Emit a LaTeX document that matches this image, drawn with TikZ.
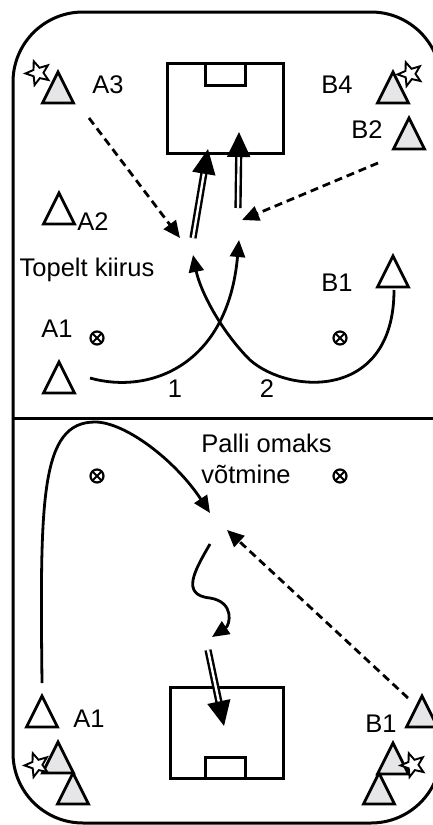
\documentclass[tikz,border=0pt]{standalone}
\usepackage{fontspec}
\setmainfont{Liberation Sans}
\usetikzlibrary{arrows.meta,shapes.geometric}
\definecolor{lightgrey}{RGB}{230,230,232}

\begin{document}
\begin{tikzpicture}[x=1pt,y=-1pt,line width=2.8pt,
  player/.style={isosceles triangle,isosceles triangle stretches,shape border rotate=90,
    minimum width=31pt,minimum height=31pt,inner sep=0pt,outer sep=0pt,draw,anchor=south},
  keeper/.style={player,fill=lightgrey},
  starmark/.style={star,star points=5,star point ratio=2.3,minimum size=25pt,inner sep=0pt,
    draw,fill=white,line width=1.9pt,rotate=20},
  ball/.style={circle,draw,line width=2.2pt,minimum size=13pt,inner sep=0pt,
    path picture={\draw[line width=1.8pt] (path picture bounding box.north west) -- (path picture bounding box.south east)
      (path picture bounding box.north east) -- (path picture bounding box.south west);}},
  txt/.style={font=\fontsize{25.5}{31}\selectfont,inner sep=0pt,anchor=base},
  goal/.style={draw,inner sep=0pt,outer sep=0pt,line width=3pt},
  runline/.style={-{Triangle[length=17pt,width=15pt]}},
  passline/.style={runline,dash pattern=on 8pt off 5pt},
  shotline/.style={double,double distance=2.4pt,line width=2.4pt,-{Triangle[length=25pt,width=23pt]}}]
  \useasboundingbox (0,0) rectangle (433,825);

  % field and halfway line
  \draw[line width=3pt,rounded corners=70pt] (13,12) rectangle (441,823);
  \draw[line width=3pt] (13,418) -- (441,418);

  % goals
  \node[goal,minimum width=116pt,minimum height=90pt] (goaltop) at (225,108) {};
  \node[goal,minimum width=40pt,minimum height=22pt,anchor=north] (boxtop) at (225,63) {};
  \node[goal,minimum width=113pt,minimum height=91pt] (goalbot) at (226.5,732.5) {};
  \node[goal,minimum width=40pt,minimum height=21pt,anchor=south] (boxbot) at (225,778) {};

  % players
  \foreach \n/\x/\y in {a3/58/103, b4/393/103, b2/409/149, g1/58/773, g2/73/804,
                        b1low/422/727, g3/393/774, g4/379/804}
    { \node[keeper] (\n) at (\x,\y) {}; }
  \foreach \n/\x/\y in {a2/59/224, a1/59/393, b1/393/287, a1low/42/727}
    { \node[player] (\n) at (\x,\y) {}; }
  \foreach \n/\x/\y in {sa3/38/73, sb4/410/74, sg1/37/765, sg3/413/765}
    { \node[starmark] (\n) at (\x,\y) {}; }

  % balls
  \foreach \n/\x/\y in {ba/97/338, bb/340/338, bc/97/476, bd/340/476}
    { \node[ball] (\n) at (\x,\y) {}; }

  % texts
  \node[txt] (ta3) at (108,93) {A3};
  \node[txt] (tb4) at (337,93) {B4};
  \node[txt] (tb2) at (367,138) {B2};
  \node[txt] (ta2) at (93,230) {A2};
  \node[txt] (ttop) at (87,276) {Topelt kiirus};
  \node[txt] (ta1) at (57,337) {A1};
  \node[txt] (tb1) at (337,291) {B1};
  \node[txt] (tone) at (175,397) {1};
  \node[txt] (ttwo) at (267,397) {2};
  \node[txt,anchor=north west,align=left] (tpall) at (200,433) {Palli omaks\\võtmine};
  \node[txt] (ta1low) at (89,727) {A1};
  \node[txt] (tb1low) at (381,732) {B1};

  % upper half: runs, passes, shots
  \coordinate (r1s) at (90,378);   \coordinate (r1e) at (239,240);
  \coordinate (r2s) at (394,290);  \coordinate (r2m) at (250,360);  \coordinate (r2e) at (193,255);
  \coordinate (p1s) at (89,118);   \coordinate (p1e) at (180,238);
  \coordinate (p2s) at (378,163);  \coordinate (p2e) at (242,220);
  \coordinate (s1s) at (193,238);  \coordinate (s1e) at (208,149);
  \coordinate (s2s) at (238,208);  \coordinate (s2e) at (239,132);
  \draw[runline] (r1s) .. controls (150,395) and (228,365) .. (r1e);
  \draw[runline] (r2s) .. controls (394,400) and (290,395) .. (r2m)
                       .. controls (220,330) and (200,290) .. (r2e);
  \draw[passline] (p1s) -- (p1e);
  \draw[passline] (p2s) -- (p2e);
  \draw[shotline] (s1s) -- (s1e);
  \draw[shotline] (s2s) -- (s2e);

  % lower half
  \coordinate (r3s) at (42,683);   \coordinate (r3m) at (95,422);   \coordinate (r3e) at (210,513);
  \coordinate (r4s) at (210,544);  \coordinate (r4m) at (210,598);  \coordinate (r4e) at (212,637);
  \coordinate (p3s) at (408,698);  \coordinate (p3e) at (227,530);
  \coordinate (s3s) at (208,650);  \coordinate (s3e) at (224,726);
  \draw[runline] (r3s) .. controls (40,500) and (40,422) .. (r3m)
                       .. controls (125,422) and (175,460) .. (r3e);
  \draw[runline] (r4s) .. controls (195,570) and (180,595) .. (r4m)
                       .. controls (235,602) and (230,625) .. (r4e);
  \draw[passline] (p3s) -- (p3e);
  \draw[shotline] (s3s) -- (s3e);
\end{tikzpicture}
\end{document}
